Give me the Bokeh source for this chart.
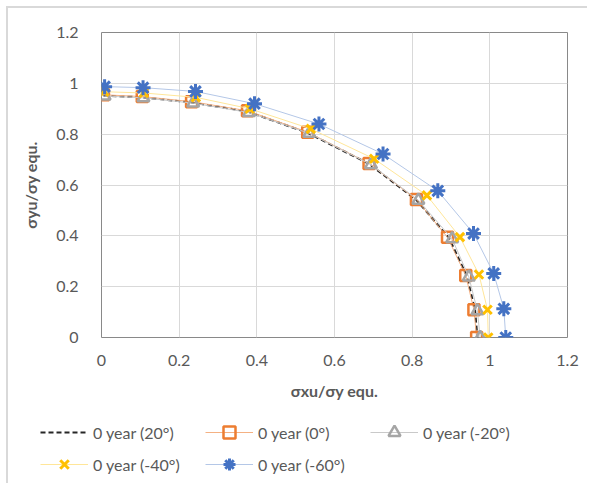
from bokeh.plotting import figure
from bokeh.models import Legend, LegendItem, FixedTicker
from bokeh.layouts import column
from bokeh.embed import file_html
from bokeh.resources import INLINE

# ---- data ----
ticks = [0, 0.2, 0.4, 0.6, 0.8, 1.0, 1.2]
tick_labels = ["0", "0.2", "0.4", "0.6", "0.8", "1", "1.2"]

x_p20 = [0.005, 0.105, 0.232, 0.376, 0.531, 0.689, 0.811, 0.895, 0.941, 0.962, 0.968]
y_p20 = [0.952, 0.945, 0.925, 0.889, 0.805, 0.683, 0.541, 0.391, 0.241, 0.107, 0.0]

x_0 = [0.005, 0.105, 0.232, 0.376, 0.531, 0.689, 0.811, 0.891, 0.938, 0.959, 0.966]
y_0 = [0.955, 0.948, 0.928, 0.892, 0.808, 0.685, 0.543, 0.394, 0.244, 0.109, 0.0]

x_m20 = [0.008, 0.108, 0.236, 0.380, 0.535, 0.694, 0.816, 0.903, 0.946, 0.968, 0.975]
y_m20 = [0.950, 0.943, 0.922, 0.885, 0.803, 0.680, 0.540, 0.388, 0.238, 0.105, 0.0]

x_m40 = [0.007, 0.109, 0.243, 0.382, 0.539, 0.702, 0.838, 0.923, 0.972, 0.994, 0.996]
y_m40 = [0.967, 0.962, 0.945, 0.900, 0.821, 0.703, 0.559, 0.395, 0.248, 0.109, 0.0]

x_m60 = [0.008, 0.107, 0.242, 0.394, 0.560, 0.725, 0.866, 0.958, 1.010, 1.036, 1.041]
y_m60 = [0.987, 0.983, 0.968, 0.920, 0.840, 0.722, 0.577, 0.409, 0.252, 0.113, 0.0]

labels = ["0 year (20°)", "0 year (0°)", "0 year (-20°)", "0 year (-40°)", "0 year (-60°)"]

FONT = "Lato"
TXT = "#595959"
BORDER = "2px solid #d9d9d9"

styles = [
    dict(line_color="#262626", line_width=2, line_dash="5 3", marker=None),
    dict(line_color="#F4B183", line_width=1, line_dash="solid", marker="square", size=11, mcolor="#ED7D31", mlw=2.5),
    dict(line_color="#C9C9C9", line_width=1, line_dash="solid", marker="triangle", size=12, mcolor="#A5A5A5", mlw=2.5),
    dict(line_color="#FFE699", line_width=1, line_dash="solid", marker="x", size=12, mcolor="#FFC000", mlw=3),
    dict(line_color="#B4C7E7", line_width=1, line_dash="solid", marker="asterisk", size=15, mcolor="#4472C4", mlw=3),
]
series = [(x_p20, y_p20), (x_0, y_0), (x_m20, y_m20), (x_m40, y_m40), (x_m60, y_m60)]

# ---- main chart ----
p = figure(width=581, height=402, output_backend="svg", toolbar_location=None,
           x_range=(0, 1.2), y_range=(0, 1.2),
           min_border_left=93, min_border_right=22, min_border_top=24, min_border_bottom=73)
p.margin = (6, 0, 0, 6)
p.styles = {"border-left": BORDER, "border-top": BORDER}
p.frame_align = False
p.background_fill_color = "white"
p.border_fill_color = "white"
p.outline_line_color = "#898989"
p.outline_line_width = 1

for ax in (p.xaxis[0], p.yaxis[0]):
    ax.ticker = FixedTicker(ticks=ticks)
    ax.major_label_overrides = {t: l for t, l in zip(ticks, tick_labels)}
    ax.axis_line_color = None
    ax.major_tick_line_color = None
    ax.minor_tick_line_color = None
    ax.major_label_text_font = FONT
    ax.major_label_text_font_size = "16px"
    ax.major_label_text_color = TXT
    ax.axis_label_text_font = FONT
    ax.axis_label_text_font_size = "16px"
    ax.axis_label_text_font_style = "bold"
    ax.axis_label_text_color = TXT

p.xaxis.axis_label = "σxu/σy equ."
p.yaxis.axis_label = "σyu/σy equ."
p.xaxis.major_label_standoff = 11
p.xaxis.axis_label_standoff = 12
p.yaxis.major_label_standoff = 17
p.yaxis.axis_label_standoff = 13
p.grid.grid_line_color = "#d9d9d9"
p.grid.grid_line_width = 1


def draw(fig, xs, ys, st):
    rs = [fig.line(xs, ys, line_color=st["line_color"], line_width=st["line_width"],
                   line_dash=st["line_dash"])]
    if st["marker"]:
        kw = dict(marker=st["marker"], size=st["size"], line_color=st["mcolor"],
                  line_width=st["mlw"])
        if st["marker"] in ("square", "triangle"):
            kw["fill_color"] = None
        rs.append(fig.scatter(xs, ys, **kw))
    return rs


for (xs, ys), st in zip(series, styles):
    draw(p, xs, ys, st)

# ---- legend strip below the chart (legend proxies sit outside its visible range) ----
q = figure(width=581, height=75, output_backend="svg", toolbar_location=None,
           x_range=(0, 1), y_range=(0, 1), x_axis_type=None, y_axis_type=None,
           min_border=0, min_border_left=0, min_border_right=0,
           min_border_top=0, min_border_bottom=0)
q.margin = (0, 0, 0, 6)
q.styles = {"border-left": BORDER}
q.frame_align = False
q.outline_line_color = None
q.grid.visible = False
q.background_fill_color = "white"
q.border_fill_color = "white"

items = []
for lab, st in zip(labels, styles):
    items.append(LegendItem(label=lab, renderers=draw(q, [-5, -4], [-5, -4], st)))

legend = Legend(items=items, location=(32, 4), orientation="horizontal", ncols=3,
                glyph_width=48, glyph_height=30, label_height=20, label_width=110,
                label_standoff=5, spacing=2, padding=0, margin=0,
                label_text_font=FONT, label_text_font_size="16px", label_text_color=TXT,
                border_line_color=None, background_fill_alpha=0)
q.add_layout(legend, "center")

layout = column(p, q, spacing=0)
open("out.html", "w").write(file_html(layout, INLINE))
